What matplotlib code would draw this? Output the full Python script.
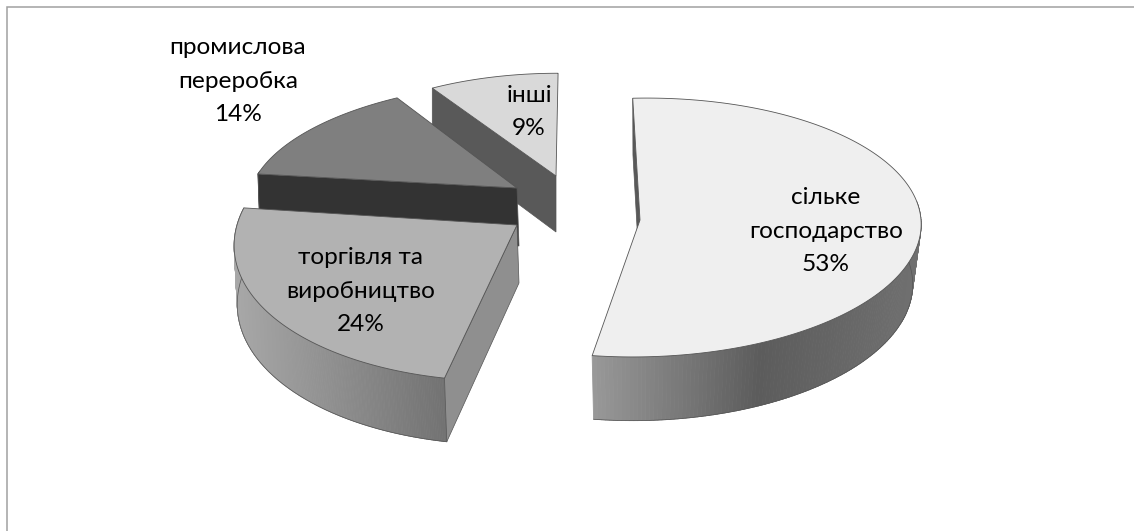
import numpy as np
import matplotlib
matplotlib.use("Agg")
import matplotlib.pyplot as plt
from matplotlib.collections import PolyCollection
from matplotlib.patches import Polygon

categories = ["сільке\nгосподарство", "торгівля та\nвиробництво", "промислова\nпереробка", "інші"]
shares = [53, 24, 14, 9]

# appearance of each exploded slice in the perspective view
start_deg = [-3.0, 190.6, 277.1, 327.6]
apex_x = [640, 517, 517, 556]
apex_y = [220, 225, 188, 176]
rad_x = [281, 280, 266, 252]
rad_y = [129, 142, 115, 112]
persp = [0.058, 0.09, 0.09, 0.09]
shear = [0.025, 0.053, 0.062, 0.009]
depth = [60, 58, 58, 56]
lean = [0, 2, 2, 0]
shrink = [0.03, 0.004, 0, 0]
top_col = ["#efefef", "#b2b2b2", "#7f7f7f", "#d9d9d9"]
radial_col = ["#595959", "#8f8f8f", "#333333", "#595959"]
wall_stops = [
    ([594, 760, 921], [0x98, 0x5c, 0x70]),
    ([233, 445], [0xa8, 0x72]),
    ([258, 517], [0x60, 0x60]),
    ([432, 556], [0x60, 0x60]),
]
label_xy = [(826, 231), (361, 291), (238, 81), (529, 112)]
EDGE = "#555555"

fig = plt.figure(figsize=(11.34, 5.31), dpi=100)
ax = fig.add_axes([0, 0, 1, 1])
ax.set_xlim(0, 1134)
ax.set_ylim(531, 0)
ax.axis("off")

ax.plot([6.7, 6.7, 1134], [531, 6.7, 6.7], color="#a0a0a0", lw=1.1, zorder=0, solid_joinstyle="miter")


def project(i, theta, z=0.0):
    u, v = np.sin(theta), np.cos(theta)
    w = 1 + persp[i] * v
    x = apex_x[i] + rad_x[i] * (u + shear[i] * v) / w * (1 - shrink[i] * z) + lean[i] * z
    y = apex_y[i] - rad_y[i] * v / w + depth[i] * z / w
    return x, y


def apex(i, z=0.0):
    return apex_x[i] + lean[i] * z, apex_y[i] + depth[i] * z


for layer, i in enumerate([3, 2, 0, 1]):
    zo = 1 + layer
    t0 = np.deg2rad(start_deg[i])
    t1 = t0 + np.deg2rad(shares[i] * 3.6)
    th = np.linspace(t0, t1, 240)
    xt, yt = project(i, th, 0)

    # curved outer wall with a horizontal gradient, front-facing part only
    tv = th[np.cos(th) < 0.15]
    if len(tv) > 1:
        xa, ya = project(i, tv, 0)
        xb, yb = project(i, tv, 1)
        quads = [[(xa[j], ya[j]), (xa[j + 1], ya[j + 1]), (xb[j + 1], yb[j + 1]), (xb[j], yb[j])]
                 for j in range(len(tv) - 1)]
        mids = 0.5 * (xa[:-1] + xa[1:])
        stops_x, stops_g = wall_stops[i]
        grey = np.interp(mids, stops_x, stops_g) / 255
        cols = [(g, g, g) for g in grey]
        ax.add_collection(PolyCollection(quads, facecolors=cols, edgecolors=cols, linewidths=0.6, zorder=zo))
        ax.plot(xb, yb, color=EDGE, lw=0.5, zorder=zo + 0.1)

    # radial wall at the slice's leading side
    xs, ys = project(i, t0, 1)
    ax.add_patch(Polygon([apex(i), (xt[0], yt[0]), (xs, ys), apex(i, 1)],
                         closed=True, facecolor=radial_col[i], edgecolor=EDGE, lw=0.5, zorder=zo + 0.2))

    # top surface
    ax.add_patch(Polygon(np.column_stack([np.r_[apex_x[i], xt], np.r_[apex_y[i], yt]]),
                         closed=True, facecolor=top_col[i], edgecolor=EDGE, lw=0.6, zorder=zo + 0.3))

for i, name in enumerate(categories):
    x, y = label_xy[i]
    ax.text(x, y, f"{name}\n{shares[i]}%", ha="center", va="center", multialignment="center",
            fontsize=17.6, linespacing=1.72, color="black",
            family=["Lato", "Open Sans", "DejaVu Sans"], zorder=10)

fig.savefig("out.png", dpi=100)
